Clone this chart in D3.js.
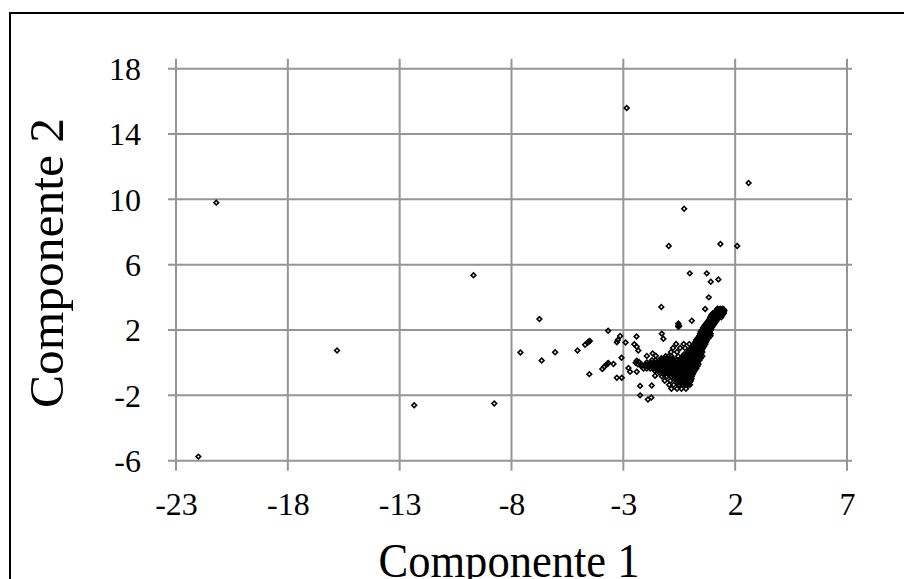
<!DOCTYPE html>
<html>
<head>
<meta charset="utf-8">
<script src="https://cdn.jsdelivr.net/npm/d3@7"></script>
<style>
  html, body { margin: 0; padding: 0; background: #fff; }
  svg { display: block; }
  text { font-family: "Liberation Serif", "Times New Roman", serif; fill: #000; }
</style>
</head>
<body>
<svg id="chart" width="904" height="579"></svg>
<script>
// Axis ticks
const xTicks = [-23, -18, -13, -8, -3, 2, 7];
const yTicks = [-6, -2, 2, 6, 10, 14, 18];
const xTitle = "Componente 1";
const yTitle = "Componente 2";

// Isolated scores far from the main group
const outliers = [
  [-21.2, 9.8], [-22.0, -5.75], [-15.8, 0.75], [-12.35, -2.6], [-9.7, 5.35],
  [-8.77, -2.5], [-6.75, 2.67], [-2.85, 15.6], [2.6, 11.0], [-0.28, 9.43],
  [-0.97, 7.14], [1.34, 7.27], [2.09, 7.14], [-0.03, 5.47], [0.73, 5.47],
  [0.91, 4.96], [1.25, 5.1], [0.82, 4.0], [-1.3, 3.41], [0.66, 3.29], [0.06, 2.57]
];

// Scattered scores around the main group
const spread = [
  [-7.6, 0.63], [-6.65, 0.14], [-6.05, 0.64], [-5.05, 0.75], [-4.71, 1.1],
  [-4.6, 1.22], [-4.55, 1.28], [-4.5, 1.33], [-4.52, -0.7], [-3.68, 1.96],
  [-3.14, 1.63], [-3.25, 1.39], [-3.29, 1.25], [-2.9, 1.24], [-2.41, 1.61],
  [-2.51, 1.13], [-2.4, 0.98], [-2.33, 0.75], [-3.08, 0.3], [-3.94, -0.38],
  [-3.85, -0.25], [-3.76, -0.12], [-3.7, -0.05], [-3.67, -0.02], [-3.44, -0.08],
  [-3.29, -0.92], [-3.07, -0.92], [-2.77, -0.32], [-2.7, -0.55], [-2.4, -0.55],
  [-2.25, -1.42], [-1.73, -1.4], [-2.25, -2.0], [-1.9, -2.25], [-1.75, -2.13],
  [-1.58, -0.8], [-1.69, 0.57], [-1.55, 0.43], [-1.28, 1.78], [-1.21, 1.47],
  [-0.54, 2.2], [-0.54, 2.3], [-0.54, 2.4], [-0.5, 2.25], [-1.95, 0.41],
  [-2.45, 0.0], [-2.3, 0.05], [-2.4, 0.12]
];

// Dense core of the scores
const core = [
  [1.2, 3.3], [1.33, 3.3], [1.45, 3.3],
  [1.25, 3.24], [1.38, 3.24], [1.5, 3.24],
  [1.15, 3.18], [1.3, 3.18], [1.45, 3.18], [1.52, 3.18],
  [1.02, 3.05], [1.15, 3.05], [1.28, 3.05], [1.4, 3.05], [1.5, 3.05],
  [0.98, 2.98], [1.1, 2.98], [1.23, 2.98], [1.36, 2.98], [1.46, 2.98],
  [0.93, 2.9], [1.06, 2.9], [1.19, 2.9], [1.32, 2.9], [1.42, 2.9],
  [0.88, 2.78], [1.01, 2.78], [1.14, 2.78], [1.27, 2.78], [1.38, 2.78],
  [0.84, 2.65], [0.97, 2.65], [1.1, 2.65], [1.2, 2.65],
  [0.77, 2.52], [0.9, 2.52], [1.03, 2.52], [1.15, 2.52],
  [0.7, 2.4], [0.83, 2.4], [0.96, 2.4], [1.08, 2.4],
  [0.63, 2.28], [0.76, 2.28], [0.89, 2.28], [1.02, 2.28],
  [0.57, 2.15], [0.7, 2.15], [0.83, 2.15], [0.96, 2.15],
  [0.52, 2.02], [0.66, 2.02], [0.79, 2.02], [0.92, 2.02],
  [0.45, 1.9], [0.62, 1.9], [0.75, 1.9], [0.87, 1.9],
  [0.43, 1.78], [0.56, 1.78], [0.69, 1.78], [0.82, 1.78], [0.9, 1.78],
  [0.4, 1.65], [0.52, 1.65], [0.65, 1.65], [0.78, 1.65], [0.9, 1.65],
  [0.33, 1.52], [0.46, 1.52], [0.58, 1.52], [0.7, 1.52], [0.82, 1.52],
  [0.26, 1.4], [0.38, 1.4], [0.5, 1.4], [0.62, 1.4], [0.74, 1.4],
  [0.22, 1.28], [0.34, 1.28], [0.46, 1.28], [0.58, 1.28], [0.7, 1.28],
  [-0.64, 1.15], [-0.3, 1.15], [-0.05, 1.15], [0.17, 1.15], [0.3, 1.15], [0.42, 1.15], [0.55, 1.15], [0.67, 1.15],
  [0.1, 1.02], [0.23, 1.02], [0.36, 1.02], [0.49, 1.02], [0.62, 1.02],
  [-0.78, 0.9], [-0.46, 0.9], [-0.24, 0.9], [0.04, 0.9], [0.17, 0.9], [0.3, 0.9], [0.43, 0.9], [0.57, 0.9],
  [-0.03, 0.78], [0.1, 0.78], [0.23, 0.78], [0.36, 0.78], [0.5, 0.78],
  [-0.87, 0.65], [-0.6, 0.65], [-0.1, 0.65], [0.03, 0.65], [0.16, 0.65], [0.29, 0.65], [0.42, 0.65], [0.53, 0.65],
  [-0.28, 0.52], [-0.15, 0.52], [-0.02, 0.52], [0.1, 0.52], [0.23, 0.52], [0.36, 0.52], [0.48, 0.52],
  [-1.11, 0.4], [-0.98, 0.4], [-0.85, 0.4], [-0.55, 0.4], [-0.35, 0.4], [-0.22, 0.4], [-0.09, 0.4], [0.04, 0.4],
  [0.17, 0.4], [0.3, 0.4], [0.43, 0.4], [0.53, 0.4],
  [-1.3, 0.28], [-1.18, 0.28], [-1.05, 0.28], [-0.92, 0.28], [-0.79, 0.28], [-0.42, 0.28], [-0.29, 0.28],
  [-0.16, 0.28], [-0.03, 0.28], [0.1, 0.28], [0.23, 0.28], [0.36, 0.28], [0.46, 0.28],
  [-1.72, 0.15], [-1.55, 0.15], [-1.4, 0.15], [-1.27, 0.15], [-1.14, 0.15], [-1.01, 0.15], [-0.88, 0.15],
  [-0.75, 0.15], [-0.62, 0.15], [-0.49, 0.15], [-0.36, 0.15], [-0.23, 0.15], [-0.1, 0.15], [0.03, 0.15],
  [0.16, 0.15], [0.3, 0.15], [0.4, 0.15],
  [-1.95, 0.02], [-1.78, 0.02], [-1.63, 0.02], [-1.5, 0.02], [-1.37, 0.02], [-1.24, 0.02], [-1.11, 0.02],
  [-0.98, 0.02], [-0.85, 0.02], [-0.72, 0.02], [-0.59, 0.02], [-0.46, 0.02], [-0.33, 0.02], [-0.2, 0.02],
  [-0.07, 0.02], [0.06, 0.02], [0.19, 0.02], [0.32, 0.02],
  [-2.35, -0.1], [-2.2, -0.1], [-2.0, -0.1], [-1.85, -0.1], [-1.7, -0.1], [-1.57, -0.1], [-1.44, -0.1],
  [-1.31, -0.1], [-1.18, -0.1], [-1.05, -0.1], [-0.92, -0.1], [-0.79, -0.1], [-0.66, -0.1], [-0.53, -0.1],
  [-0.4, -0.1], [-0.27, -0.1], [-0.14, -0.1], [-0.01, -0.1], [0.12, -0.1], [0.25, -0.1], [0.36, -0.1],
  [-2.2, -0.22], [-2.03, -0.22], [-1.88, -0.22], [-1.73, -0.22], [-1.6, -0.22], [-1.47, -0.22], [-1.34, -0.22],
  [-1.21, -0.22], [-1.08, -0.22], [-0.95, -0.22], [-0.82, -0.22], [-0.69, -0.22], [-0.56, -0.22], [-0.43, -0.22],
  [-0.3, -0.22], [-0.17, -0.22], [-0.04, -0.22], [0.09, -0.22], [0.21, -0.22], [0.31, -0.22],
  [-2.1, -0.35], [-1.95, -0.35], [-1.8, -0.35], [-1.66, -0.35], [-1.53, -0.35], [-1.4, -0.35], [-1.27, -0.35],
  [-1.14, -0.35], [-1.01, -0.35], [-0.88, -0.35], [-0.75, -0.35], [-0.62, -0.35], [-0.49, -0.35], [-0.36, -0.35],
  [-0.23, -0.35], [-0.1, -0.35], [0.03, -0.35], [0.16, -0.35], [0.26, -0.35],
  [-1.6, -0.48], [-1.47, -0.48], [-1.34, -0.48], [-1.21, -0.48], [-1.08, -0.48], [-0.95, -0.48], [-0.82, -0.48],
  [-0.69, -0.48], [-0.56, -0.48], [-0.43, -0.48], [-0.3, -0.48], [-0.17, -0.48], [-0.04, -0.48], [0.09, -0.48], [0.2, -0.48],
  [-1.4, -0.6], [-1.27, -0.6], [-1.14, -0.6], [-1.01, -0.6], [-0.88, -0.6], [-0.75, -0.6], [-0.62, -0.6],
  [-0.49, -0.6], [-0.36, -0.6], [-0.23, -0.6], [-0.1, -0.6], [0.03, -0.6], [0.14, -0.6],
  [-1.2, -0.72], [-0.98, -0.72], [-0.79, -0.72], [-0.66, -0.72], [-0.53, -0.72], [-0.4, -0.72],
  [-0.27, -0.72], [-0.14, -0.72], [-0.01, -0.72], [0.1, -0.72],
  [-1.27, -0.85], [-1.05, -0.85], [-0.85, -0.85], [-0.72, -0.85], [-0.59, -0.85], [-0.46, -0.85],
  [-0.33, -0.85], [-0.2, -0.85], [-0.07, -0.85], [0.06, -0.85],
  [-0.69, -0.98], [-0.56, -0.98], [-0.43, -0.98], [-0.3, -0.98], [-0.17, -0.98], [-0.04, -0.98], [0.05, -0.98],
  [-1.15, -1.1], [-0.9, -1.1], [-0.62, -1.1], [-0.49, -1.1], [-0.36, -1.1], [-0.23, -1.1], [-0.1, -1.1], [0.02, -1.1],
  [-0.56, -1.22], [-0.43, -1.22], [-0.3, -1.22], [-0.17, -1.22], [-0.05, -1.22],
  [-0.95, -1.35], [-0.75, -1.35], [-0.5, -1.35], [-0.37, -1.35], [-0.24, -1.35], [-0.11, -1.35], [-0.02, -1.35],
  [-0.85, -1.6], [-0.6, -1.6], [-0.4, -1.6], [-0.2, -1.6]
];

const svg = d3.select("#chart");
svg.append("rect").attr("width", 904).attr("height", 579).attr("fill", "#fff");

// Outer frame (runs past the right and bottom edges)
svg.append("rect")
  .attr("x", 10).attr("y", 13).attr("width", 920).attr("height", 620)
  .attr("fill", "none").attr("stroke", "#000").attr("stroke-width", 2);

const x = d3.scaleLinear().domain([-23, 7]).range([176, 847]);
const y = d3.scaleLinear().domain([-6, 18]).range([460.7, 68.7]);

const gridColor = "#959595";
const grid = svg.append("g").attr("stroke", gridColor).attr("stroke-width", 2);

grid.selectAll("line.v").data(xTicks).join("line")
  .attr("class", "v")
  .attr("x1", d => x(d)).attr("x2", d => x(d))
  .attr("y1", y(18) - 10).attr("y2", y(-6) + 10);

grid.selectAll("line.h").data(yTicks).join("line")
  .attr("class", "h")
  .attr("x1", x(-23) - 8).attr("x2", x(7) + 5)
  .attr("y1", d => y(d)).attr("y2", d => y(d));

// Tick labels through d3 axes (tick lines hidden, grid drawn separately)
const fmt = d => String(d);

const xAxis = svg.append("g")
  .attr("transform", `translate(0,${y(-6)})`)
  .call(d3.axisBottom(x).tickValues(xTicks).tickSize(0).tickPadding(0).tickFormat(fmt));
xAxis.select(".domain").remove();
xAxis.selectAll("text")
  .attr("y", 54).attr("dy", null)
  .style("font-family", '"Liberation Serif", serif').style("font-size", "32px").attr("fill", "#000");

const yAxis = svg.append("g")
  .attr("transform", `translate(${x(-23)},0)`)
  .call(d3.axisLeft(y).tickValues(yTicks).tickSize(0).tickPadding(0).tickFormat(fmt));
yAxis.select(".domain").remove();
yAxis.selectAll("text")
  .attr("x", -35).attr("dy", "0.34em")
  .style("font-family", '"Liberation Serif", serif').style("font-size", "32px").attr("fill", "#000");

// Axis titles
svg.append("text")
  .attr("x", 509).attr("y", 577)
  .attr("text-anchor", "middle")
  .attr("textLength", 261).attr("lengthAdjust", "spacingAndGlyphs")
  .style("font-size", "48px")
  .text(xTitle);

svg.append("text")
  .attr("transform", `translate(63,263) rotate(-90)`)
  .attr("text-anchor", "middle")
  .attr("textLength", 290).attr("lengthAdjust", "spacingAndGlyphs")
  .style("font-size", "48px")
  .text(yTitle);

// Scores: small hollow diamonds
const marker = d3.symbol().type(d3.symbolSquare).size(11)();
const all = outliers.concat(spread, core);
svg.append("g").selectAll("path").data(all).join("path")
  .attr("d", marker)
  .attr("transform", d => `translate(${x(d[0])},${y(d[1])}) rotate(45)`)
  .attr("fill", "none")
  .attr("stroke", "#000")
  .attr("stroke-width", 1.6);
</script>
</body>
</html>
